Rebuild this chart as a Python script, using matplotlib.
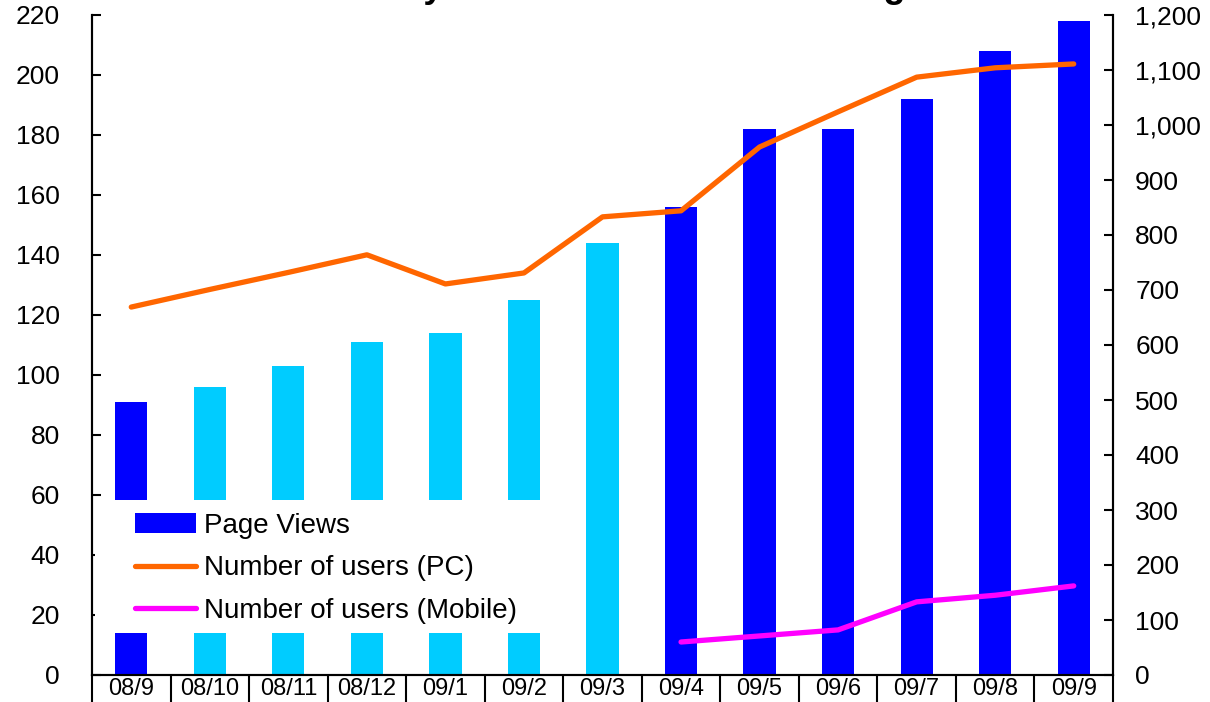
import numpy as np
import matplotlib
matplotlib.use("Agg")
import matplotlib.pyplot as plt
from matplotlib.patches import Rectangle
from matplotlib.ticker import FuncFormatter, MultipleLocator

plt.rcParams['font.family'] = ['Liberation Sans', 'DejaVu Sans']

# ---- data ----
categories = ["08/9", "08/10", "08/11", "08/12", "09/1", "09/2", "09/3",
              "09/4", "09/5", "09/6", "09/7", "09/8", "09/9"]
page_views = [91, 96, 103, 111, 114, 125, 144, 156, 182, 182, 192, 208, 218]
users_pc = [669, 701, 732, 764, 711, 731, 833, 844, 960, 1024, 1087, 1104, 1111]
users_mobile = [np.nan, np.nan, np.nan, np.nan, np.nan, np.nan, np.nan,
                60, 71, 82, 133, 145, 162]
title = "Monthly Access Trends of the Blog"

BLUE = "#0000FF"
CYAN = "#00CCFF"
bar_colors = [BLUE] + [CYAN] * 6 + [BLUE] * 6

fig = plt.figure(figsize=(12.1, 7.02), dpi=100)
ax = fig.add_axes([92 / 1210, 27 / 702, 1021 / 1210, 660 / 702])
ax2 = ax.twinx()

x = np.arange(len(categories))
ax.bar(x, page_views, width=0.41, color=bar_colors, label="Page Views", zorder=2)
ax2.plot(x, users_pc, color="#FF6600", lw=3.8, solid_capstyle="round",
         label="Number of users (PC)", zorder=3)
ax2.plot(x, users_mobile, color="#FF00FF", lw=3.8, solid_capstyle="round",
         label="Number of users (Mobile)", zorder=3)

ax.set_xlim(-0.5, len(categories) - 0.5)
ax.set_ylim(0, 220)
ax2.set_ylim(0, 1200)
ax.yaxis.set_major_locator(MultipleLocator(20))
ax2.yaxis.set_major_locator(MultipleLocator(100))
ax2.yaxis.set_major_formatter(FuncFormatter(lambda v, p: f"{int(v):,}"))

for a in (ax, ax2):
    for s in a.spines.values():
        s.set_linewidth(1.5)
    a.spines['top'].set_visible(False)

ax.tick_params(axis='y', direction='in', length=6.5, width=1.5, pad=23, labelsize=19)
ax2.tick_params(axis='y', direction='in', length=6.5, width=1.5, pad=16, labelsize=19)

ax.set_xticks(x)
ax.set_xticklabels(categories)
ax.set_xticks(np.arange(-0.5, len(categories)), minor=True)
ax.tick_params(axis='x', which='major', length=0, pad=2, labelsize=17)
ax.tick_params(axis='x', which='minor', direction='out', length=22, width=1.5)

# white legend area
ax2.add_patch(Rectangle((0.003, 0.0636), 0.461, 0.2014, transform=ax2.transAxes,
                        facecolor='white', edgecolor='none', zorder=4))
h1, l1 = ax.get_legend_handles_labels()
h2, l2 = ax2.get_legend_handles_labels()
leg = ax2.legend(h1 + h2, l1 + l2, loc='upper left', bbox_to_anchor=(0.042, 0.246),
                 frameon=False, fontsize=20, handlelength=2.2, handletextpad=0.29,
                 labelspacing=0.6, borderpad=0, borderaxespad=0)
leg.set_zorder(5)

fig.text(0.5, 1 + 3 / 702, title, ha='center', va='baseline', fontsize=26,
         fontweight='bold')

fig.savefig("out.png", dpi=100)
